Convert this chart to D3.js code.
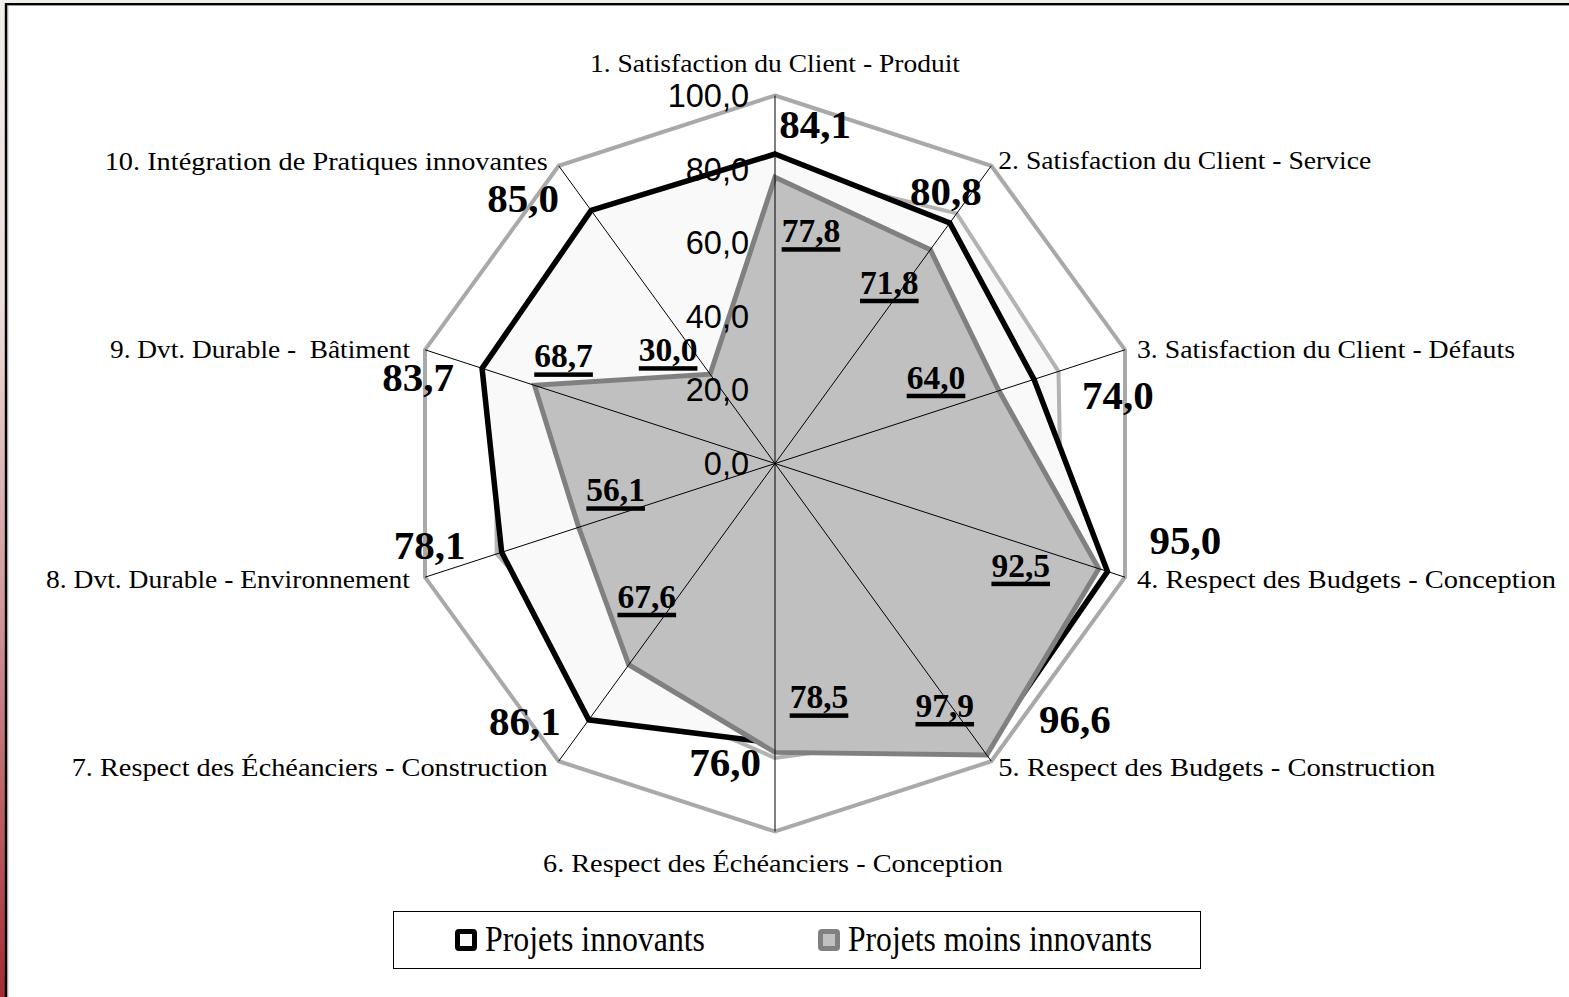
<!DOCTYPE html>
<html><head><meta charset="utf-8">
<script src="https://cdn.jsdelivr.net/npm/d3@7/dist/d3.min.js"></script>
<style>html,body{margin:0;padding:0;background:#fff;} svg{display:block;}</style>
</head><body>
<script>
// ---- data ----
const categories = [
  "1. Satisfaction du Client - Produit",
  "2. Satisfaction du Client - Service",
  "3. Satisfaction du Client - Défauts",
  "4. Respect des Budgets - Conception",
  "5. Respect des Budgets - Construction",
  "6. Respect des Échéanciers - Conception",
  "7. Respect des Échéanciers - Construction",
  "8. Dvt. Durable - Environnement",
  "9. Dvt. Durable -  Bâtiment",
  "10. Intégration de Pratiques innovantes"
];
const seriesNames = ["Projets innovants", "Projets moins innovants"];
const innovants = [84.1, 80.8, 74.0, 95.0, 96.6, 76.0, 86.1, 78.1, 83.7, 85.0];
const moinsInnovants = [77.8, 71.8, 64.0, 92.5, 97.9, 78.5, 67.6, 56.1, 68.7, 30.0];
// faint background series (mostly hidden, visible as light grey line)
const fondSerie = [80.0, 84.0, 81.0, 82.0, 90.0, 80.0, 75.0, 79.5, 80.0, 82.0];
const ticks = [0, 20, 40, 60, 80, 100];
const fmt = v => v.toFixed(1).replace(".", ",");

// ---- layout ----
const W = 1569, H = 997;
const cx = 775, cy = 463.5, R = 368;
const r = d3.scaleLinear().domain([0, 100]).range([0, R]);
const ang = d3.scaleLinear().domain([0, categories.length]).range([0, 2 * Math.PI]);
const pt = (i, v) => [cx + r(v) * Math.sin(ang(i)), cy - r(v) * Math.cos(ang(i))];

// label offsets (from data point) in px
const offBlack = [[40,-30],[-4,-31],[84,16],[78,-31],[91,-32],[-50,19],[-64,2],[-72,-7],[-64,9],[-68,-12]];
const offGray  = [[36,54],[-41,33],[-63,-13],[-78,-3],[-42,-49],[44,-55],[18,-68],[37,-37],[29,-29],[-42,-24]];
const offCat = [[0,-24,"middle"],[7,3,"start"],[12,8,"start"],[12,11,"start"],[7,15,"start"],
                [-2,40,"middle"],[-11,15,"end"],[-15,11,"end"],[-15,8,"end"],[-11,4,"end"]];
const catWidth = [370, 373, 378, 419, 437, 460, 476, 364, 300, 443];

const svg = d3.select("body").append("svg").attr("width", W).attr("height", H);
const defs = svg.append("defs");
const grad = defs.append("linearGradient").attr("id", "side").attr("x1", 0).attr("y1", 0).attr("x2", 0).attr("y2", 1);
[["0", "#f2eeea"], ["0.3", "#ecdedb"], ["0.6", "#d19a9b"], ["1", "#a32c35"]].forEach(s =>
  grad.append("stop").attr("offset", s[0]).attr("stop-color", s[1]));

svg.append("rect").attr("width", W).attr("height", H).attr("fill", "#f2eeea");
svg.append("rect").attr("x", 0).attr("y", 0).attr("width", 6).attr("height", H).attr("fill", "url(#side)");
svg.append("rect").attr("x", 6).attr("y", 4.2).attr("width", W + 20).attr("height", H + 20)
  .attr("fill", "#fff").attr("stroke", "#000").attr("stroke-width", 2.4);
svg.append("line").attr("x1", 7.8).attr("x2", 7.8).attr("y1", 6).attr("y2", H).attr("stroke", "#888").attr("stroke-width", 0.8);

const line = d3.line().curve(d3.curveLinearClosed);
const idx = d3.range(categories.length);

// outer 100 polygon
svg.append("path").attr("d", line(idx.map(i => pt(i, 100))))
  .attr("fill", "#fff").attr("stroke", "#a9a9a9").attr("stroke-width", 4);
// faint series
svg.append("path").attr("d", line(fondSerie.map((v, i) => pt(i, v))))
  .attr("fill", "#f9f9f9").attr("stroke", "#b3b3b3").attr("stroke-width", 4).attr("stroke-linejoin", "miter");
// innovants
svg.append("path").attr("d", line(innovants.map((v, i) => pt(i, v))))
  .attr("fill", "#f9f9f9").attr("stroke", "#000").attr("stroke-width", 5.5).attr("stroke-linejoin", "miter");
// moins innovants
svg.append("path").attr("d", line(moinsInnovants.map((v, i) => pt(i, v))))
  .attr("fill", "#c0c0c0").attr("stroke", "#808080").attr("stroke-width", 5).attr("stroke-linejoin", "miter");

// axes
svg.append("g").selectAll("line").data(idx).join("line")
  .attr("x1", cx).attr("y1", cy)
  .attr("x2", i => pt(i, 100)[0]).attr("y2", i => pt(i, 100)[1])
  .attr("stroke", "#000").attr("stroke-width", 1);

// tick labels
svg.append("g").selectAll("text").data(ticks).join("text")
  .attr("x", cx - 26).attr("y", d => cy - r(d) + 11.5)
  .attr("text-anchor", "end")
  .attr("font-family", "'Liberation Sans', Arial, sans-serif").attr("font-size", 32.5)
  .text(d => fmt(d));

// category labels
svg.append("g").selectAll("text").data(idx).join("text")
  .attr("x", i => pt(i, 100)[0] + offCat[i][0])
  .attr("y", i => pt(i, 100)[1] + offCat[i][1])
  .attr("text-anchor", i => offCat[i][2])
  .attr("font-family", "'Liberation Serif', 'Times New Roman', serif").attr("font-size", 25.5)
  .attr("textLength", i => catWidth[i]).attr("lengthAdjust", "spacingAndGlyphs")
  .style("white-space", "pre")
  .text(i => categories[i]);

// black value labels
svg.append("g").selectAll("text").data(innovants).join("text")
  .attr("x", (v, i) => pt(i, v)[0] + offBlack[i][0])
  .attr("y", (v, i) => pt(i, v)[1] + offBlack[i][1] + 13.5)
  .attr("text-anchor", "middle")
  .attr("font-family", "'Liberation Serif', 'Times New Roman', serif").attr("font-weight", "bold").attr("font-size", 41)
  .text(v => fmt(v));

// gray value labels with underline
const gl = svg.append("g").selectAll("g").data(moinsInnovants).join("g")
  .attr("transform", (v, i) => {
    const p = pt(i, v);
    return `translate(${p[0] + offGray[i][0]},${p[1] + offGray[i][1]})`;
  });
gl.append("text").attr("y", 11).attr("text-anchor", "middle")
  .attr("font-family", "'Liberation Serif', 'Times New Roman', serif").attr("font-weight", "bold").attr("font-size", 33.5)
  .text(v => fmt(v));
gl.each(function () {
  const g = d3.select(this);
  const w = g.select("text").node().getComputedTextLength();
  g.insert("rect", "text").attr("x", -w / 2).attr("y", 16).attr("width", w).attr("height", 4.5).attr("fill", "#000");
});

// legend
const leg = svg.append("g");
leg.append("rect").attr("x", 393.5).attr("y", 911.5).attr("width", 807).attr("height", 57)
  .attr("fill", "#fff").attr("stroke", "#000").attr("stroke-width", 1);
const legItems = [
  {name: seriesNames[0], x: 455, stroke: "#000", fill: "#f9f9f9", tx: 485, tl: 220},
  {name: seriesNames[1], x: 818, stroke: "#808080", fill: "#c0c0c0", tx: 848, tl: 304}
];
legItems.forEach(d => {
  leg.append("rect").attr("x", d.x + 2.5).attr("y", 931.5).attr("width", 17).attr("height", 17)
    .attr("rx", 1.5).attr("fill", d.fill).attr("stroke", d.stroke).attr("stroke-width", 5);
  leg.append("text").attr("x", d.tx).attr("y", 951)
    .attr("font-family", "'Liberation Serif', 'Times New Roman', serif").attr("font-size", 36)
    .attr("textLength", d.tl).attr("lengthAdjust", "spacingAndGlyphs")
    .text(d.name);
});
</script>
</body></html>
